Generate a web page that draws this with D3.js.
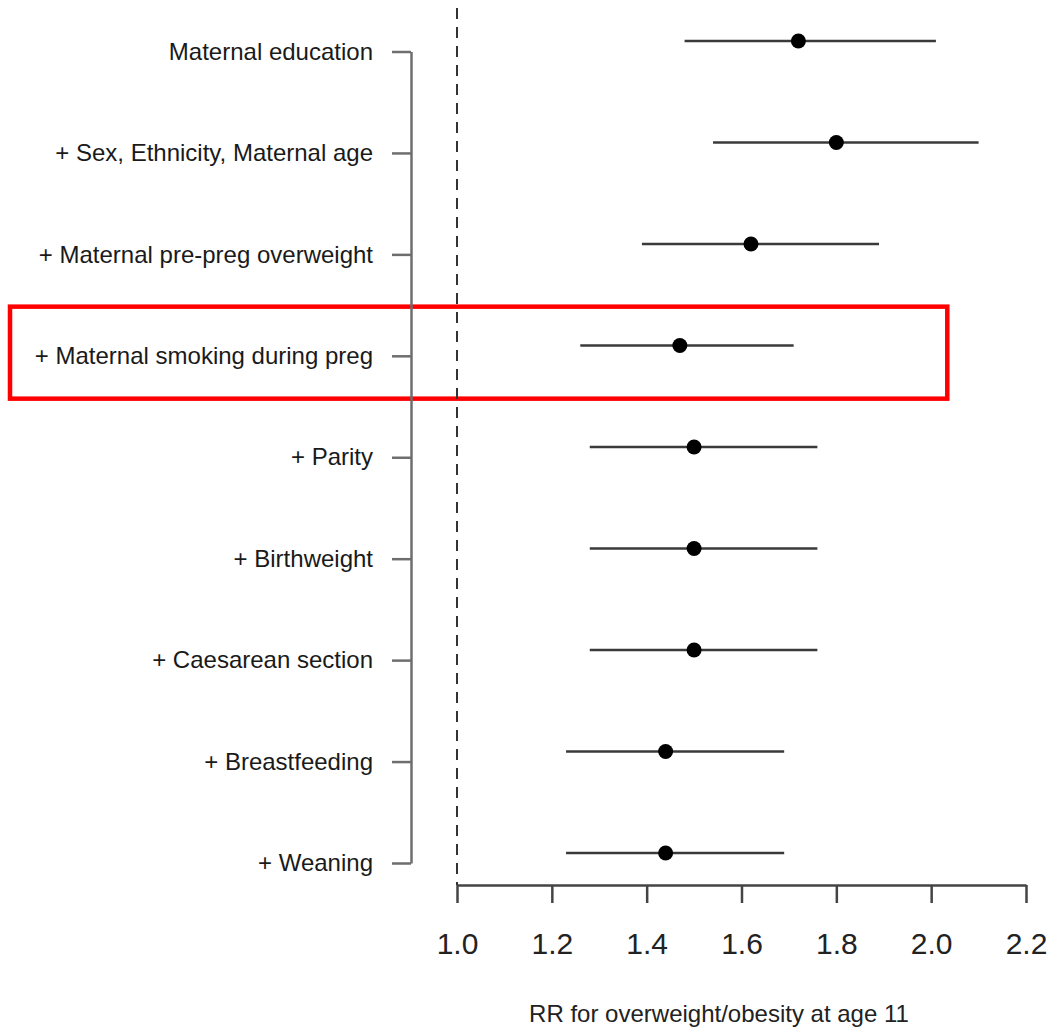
<!DOCTYPE html>
<html>
<head>
<meta charset="utf-8">
<script src="https://cdn.jsdelivr.net/npm/d3@7"></script>
<style>
  html, body { margin: 0; padding: 0; background: #fff; }
  svg { display: block; font-family: "Liberation Sans", Arial, Helvetica, sans-serif; }
</style>
</head>
<body>
<svg id="chart" width="1052" height="1030"></svg>
<script>
// ---- data ----
const models = [
  "Maternal education",
  "+ Sex, Ethnicity, Maternal age",
  "+ Maternal pre-preg overweight",
  "+ Maternal smoking during preg",
  "+ Parity",
  "+ Birthweight",
  "+ Caesarean section",
  "+ Breastfeeding",
  "+ Weaning"
];
const rr    = [1.72, 1.80, 1.62, 1.47, 1.50, 1.50, 1.50, 1.44, 1.44];
const lower = [1.48, 1.54, 1.39, 1.26, 1.28, 1.28, 1.28, 1.23, 1.23];
const upper = [2.01, 2.10, 1.89, 1.71, 1.76, 1.76, 1.76, 1.69, 1.69];
const xTicks = [1.0, 1.2, 1.4, 1.6, 1.8, 2.0, 2.2];
const referenceValue = 1.0;
const highlighted = ["+ Maternal smoking during preg"];
const xTitle = "RR for overweight/obesity at age 11";

// ---- layout ----
const svg = d3.select("#chart");
const x = d3.scaleLinear().domain([1.0, 2.2]).range([457, 1026]);
const yPoint = d3.scalePoint().domain(models).range([41, 853]);
const yLabel = d3.scalePoint().domain(models).range([51.5, 863]);
const axisY = 885;
const bracketX = 411;

// highlight box (drawn first, under)
highlighted.forEach(m => {
  const top = (yPoint(m) + yLabel(m)) / 2 - 44;
  svg.append("rect")
    .attr("x", 10).attr("y", top)
    .attr("width", x(2.034) - 10).attr("height", 92)
    .attr("fill", "none").attr("stroke", "#ff0000").attr("stroke-width", 4.5);
});

// reference dashed line
svg.append("line")
  .attr("x1", x(referenceValue)).attr("x2", x(referenceValue))
  .attr("y1", 8).attr("y2", axisY)
  .attr("stroke", "#333").attr("stroke-width", 2)
  .attr("stroke-dasharray", "11,8");

// left bracket axis with labels
const gLeft = svg.append("g")
  .attr("transform", `translate(${bracketX},0)`)
  .call(d3.axisLeft(yLabel).tickSize(19).tickSizeOuter(0).tickPadding(19));
gLeft.attr("font-family", null);
gLeft.select(".domain").attr("stroke", "#6e6e6e").attr("stroke-width", 2.5);
gLeft.selectAll(".tick line").attr("stroke", "#6e6e6e").attr("stroke-width", 2.5);
gLeft.selectAll(".tick text")
  .attr("font-size", 24).attr("fill", "#1a1a1a")
  .attr("font-family", "'Liberation Sans', Arial, sans-serif");

// x axis
const gX = svg.append("g")
  .attr("transform", `translate(0,${axisY})`)
  .call(d3.axisBottom(x).tickValues(xTicks).tickFormat(d3.format(".1f"))
        .tickSize(18).tickSizeOuter(0).tickPadding(30));
gX.attr("font-family", null);
gX.select(".domain").attr("stroke", "#444").attr("stroke-width", 2.5);
gX.selectAll(".tick line").attr("stroke", "#444").attr("stroke-width", 2.5);
gX.selectAll(".tick text")
  .attr("font-size", 30).attr("fill", "#222")
  .attr("font-family", "'Liberation Sans', Arial, sans-serif");

// x title
svg.append("text")
  .attr("x", 719).attr("y", 1022)
  .attr("text-anchor", "middle")
  .attr("font-size", 24).attr("fill", "#222")
  .text(xTitle);

// CI lines
const rows = models.map((m, i) => ({ m, rr: rr[i], lo: lower[i], hi: upper[i] }));
svg.append("g").selectAll("line").data(rows).join("line")
  .attr("x1", d => x(d.lo)).attr("x2", d => x(d.hi))
  .attr("y1", d => yPoint(d.m)).attr("y2", d => yPoint(d.m))
  .attr("stroke", "#3a3a3a").attr("stroke-width", 2.5);

// points
svg.append("g").selectAll("circle").data(rows).join("circle")
  .attr("cx", d => x(d.rr)).attr("cy", d => yPoint(d.m))
  .attr("r", 7.5).attr("fill", "#000");
</script>
</body>
</html>
